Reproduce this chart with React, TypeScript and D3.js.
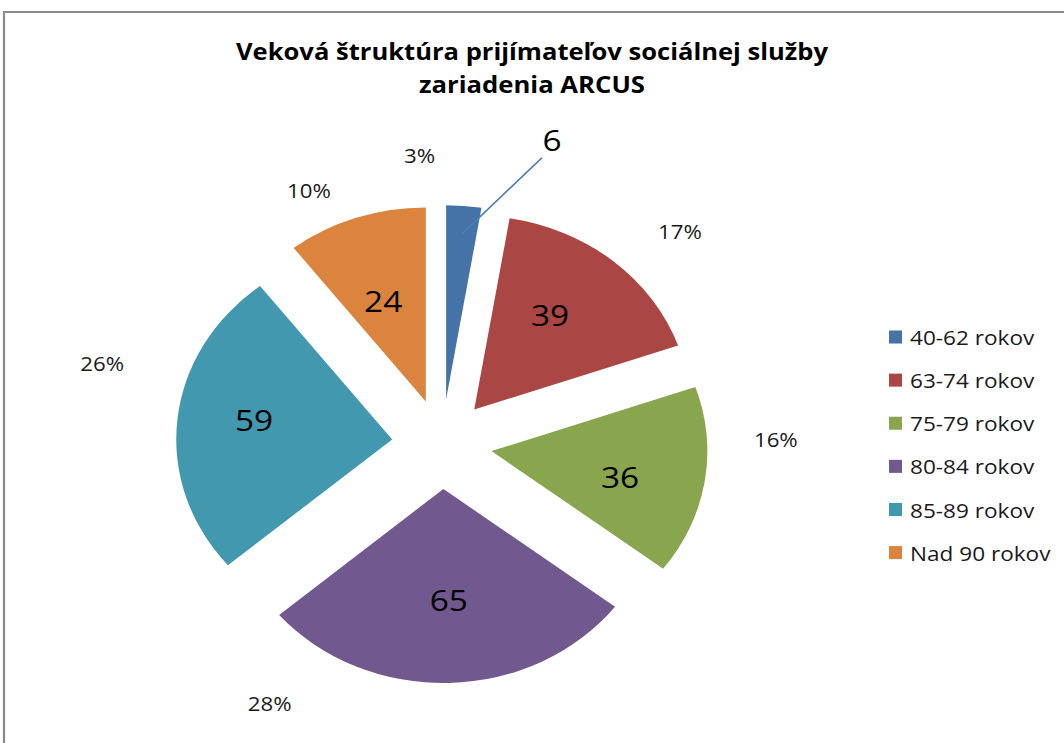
import React from 'react';
import * as d3 from 'd3';

// ---- data ----
const categories = ['40-62 rokov', '63-74 rokov', '75-79 rokov', '80-84 rokov', '85-89 rokov', 'Nad 90 rokov'];
const values = [6, 39, 36, 65, 59, 24];
const colors = ['#4572A7', '#AA4643', '#89A54E', '#71588F', '#4198AF', '#DB843D'];
const titleLines = ['Veková štruktúra prijímateľov sociálnej služby', 'zariadenia ARCUS'];

// ---- layout (style) ----
const W = 1064;
const H = 743;
const SX = 1.113; // horizontal stretch of the whole picture
const CX = 442 / SX;
const CY = 444;
const R = 194;
const EXPLODE = 45;
// inside value label placement tweaks: angle delta (deg) and radius
const valDa = [0, -3, 2.8, -0.7, 2.2, -1.4];
const valR = [160, 161, 163.4, 156.1, 170.6, 152.5];
// percent label placement tweaks: angle delta (deg) and radius
const pctDa = [-8.7, 5, -10, 32.4, 9, -6.3];
const pctR = [290, 302, 300, 302, 316, 281];
// outside value labels (only the smallest slice)
const outsideIdx = [0];
const outsideDa = 13.3;
const outsideR = 320;
const leaderFrom = 210;
const leaderTo = 300;

const FONT = "'Open Sans', 'Noto Sans', sans-serif";

function polar(a: number, r: number): [number, number] {
  return [CX + r * Math.sin(a), CY - r * Math.cos(a)];
}

export default function App() {
  const total = d3.sum(values);
  const pie = d3.pie<number>().sort(null).value((d) => d);
  const arcs = pie(values);
  const arcGen = d3.arc<d3.PieArcDatum<number>>().innerRadius(0).outerRadius(R);
  const pct = d3.format('.0%');
  const rad = (deg: number) => (deg * Math.PI) / 180;

  const legendY = d3.scalePoint<string>().domain(categories).range([337, 552.6]);

  return (
    <svg
      width={W}
      height={H}
      style={{ position: 'absolute', left: 0, top: 0, display: 'block', background: '#fff' }}
    >
      <rect x={0} y={0} width={W} height={H} fill="#fff" />
      <g transform={`scale(${SX},1)`}>
        <rect x={4 / SX} y={12} width={W * 2} height={H * 2} fill="none" stroke="#8c8c8c" strokeWidth={2} />
        {titleLines.map((t, i) => (
          <text
            key={i}
            x={532 / SX}
            y={60 + i * 33}
            textAnchor="middle"
            fontFamily={FONT}
            fontWeight="bold"
            fontSize={23}
            fill="#000"
            textLength={i === 0 ? 532 : 203}
            lengthAdjust="spacingAndGlyphs"
          >
            {t}
          </text>
        ))}

        {arcs.map((a, i) => {
          const mid = (a.startAngle + a.endAngle) / 2;
          const dx = EXPLODE * Math.sin(mid);
          const dy = -EXPLODE * Math.cos(mid);
          return (
            <path
              key={i}
              d={arcGen(a) || ''}
              transform={`translate(${CX + dx},${CY + dy})`}
              fill={colors[i]}
            />
          );
        })}

        {arcs.map((a, i) => {
          const mid = (a.startAngle + a.endAngle) / 2;
          if (outsideIdx.includes(i)) {
            const [lx, ly] = polar(mid + rad(outsideDa), outsideR);
            const [x1, y1] = polar(mid, leaderFrom);
            const [x2, y2] = polar(mid + rad(outsideDa - 0.6), leaderTo);
            return (
              <g key={i}>
                <line x1={x1} y1={y1} x2={x2} y2={y2} stroke="#4a7ebb" strokeWidth={1.6} />
                <text x={lx} y={ly} textAnchor="middle" dominantBaseline="central" fontFamily={FONT} fontSize={30} fill="#000">
                  {values[i]}
                </text>
              </g>
            );
          }
          const [lx, ly] = polar(mid + rad(valDa[i]), valR[i]);
          return (
            <text key={i} x={lx} y={ly - 1} textAnchor="middle" dominantBaseline="central" fontFamily={FONT} fontSize={30} fill="#000">
              {values[i]}
            </text>
          );
        })}

        {arcs.map((a, i) => {
          const mid = (a.startAngle + a.endAngle) / 2;
          const [lx, ly] = polar(mid + rad(pctDa[i]), pctR[i]);
          return (
            <text key={i} x={lx} y={ly} textAnchor="middle" dominantBaseline="central" fontFamily={FONT} fontSize={20} fill="#1a1a1a">
              {pct(values[i] / total)}
            </text>
          );
        })}

        {categories.map((c, i) => {
          const y = legendY(c) || 0;
          return (
            <g key={c}>
              <rect x={889 / SX} y={y - 6.5} width={13 / SX} height={13} fill={colors[i]} />
              <text x={910 / SX} y={y} dominantBaseline="central" fontFamily={FONT} fontSize={20.3} fill="#1a1a1a">
                {c}
              </text>
            </g>
          );
        })}
      </g>
    </svg>
  );
}
